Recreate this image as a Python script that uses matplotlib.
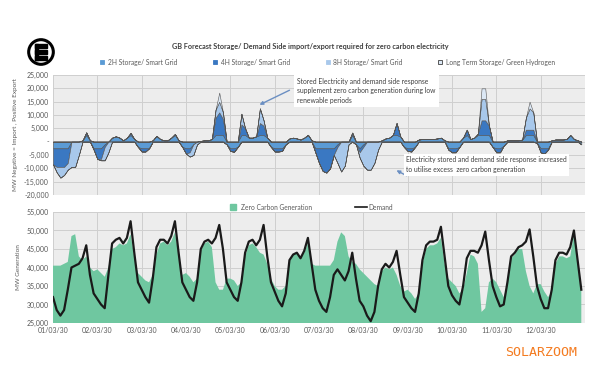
import numpy as np
import pandas as pd
import matplotlib
matplotlib.use("Agg")
import matplotlib.pyplot as plt
from matplotlib.patches import Circle, Rectangle
from matplotlib.lines import Line2D
from matplotlib.ticker import FuncFormatter, MultipleLocator

plt.rcParams['font.family'] = ['Lato', 'DejaVu Sans']

# 2-hourly readings in thousand MW, from 01/03/30 00:00, one row per day
demand = [
    32, 28.5, 27, 28.5, 34, 40, 40.5, 41, 42.5, 46, 38, 33,
    31.5, 30, 29, 38, 46.5, 47.5, 48, 46.5, 48, 52.5, 44, 36,
    34, 32, 30.5, 37, 45.5, 47.5, 47.5, 46.5, 48.5, 52.5, 44, 36,
    34, 32, 31, 36, 45, 47, 47.5, 46.5, 48, 51.5, 45, 36,
    34, 32, 31, 36, 44, 47, 47.5, 46, 47.5, 51.5, 43, 36,
    33.5, 31, 29.5, 33, 42, 43.5, 44, 42.5, 44.5, 48, 41, 34,
    31, 29, 28, 32, 38, 39.5, 38, 36.5, 39, 44, 37, 31,
    29.5, 27, 25.5, 28, 35, 39.5, 41, 40, 41.5, 44.5, 38, 32,
    30.5, 29, 28, 33, 42, 46, 47, 47, 47.5, 51, 43, 35,
    32.5, 31, 30, 35, 42.5, 44.5, 44.5, 44, 46, 49.7, 42, 35,
    32, 29.5, 30, 36, 43, 44, 45.5, 46, 47, 50.3, 43, 35,
    31.5, 29, 29, 34, 42, 44, 44, 43.5, 45.5, 50, 42, 34,
]

generation = [
    40.5, 40.5, 40.5, 41, 41.5, 48.5, 49, 43, 42, 43, 40, 39,
    39.5, 38.5, 37.5, 40, 45, 45.5, 46.5, 46, 46.5, 49, 43, 38.5,
    37.5, 36.5, 36, 38, 43.5, 46.5, 47, 46, 47, 49.5, 43.5, 38,
    38.5, 37.5, 36, 37, 44.5, 46.5, 47, 45.5, 36, 34, 34, 37,
    37, 36.5, 35, 36, 43, 46, 46.5, 45.5, 44, 43.5, 41, 37,
    35, 34, 34, 35, 42, 43.5, 44, 42.5, 44, 46.5, 41, 40.5,
    40.5, 40.5, 40.5, 40.5, 42, 47, 49.5, 48.5, 43, 41.5, 41, 39.5,
    38.5, 37.5, 36.5, 35.5, 35, 39, 40, 39.5, 40, 38, 35, 33.5,
    34, 33, 31.5, 33, 41, 45, 46, 46, 46.5, 48, 41, 37,
    36, 35, 33, 34, 38.5, 43.5, 43, 41, 28, 29, 36, 37,
    36, 34, 32, 35.5, 42.5, 43.5, 45, 45, 39, 35, 33, 35.5,
    35.5, 33.5, 32, 33.5, 41, 43, 43, 42.5, 43, 49, 41.5, 35,
]

storage_2h = [
    -2.5, -2.5, -2.5, -2.5, -2.5, 0, 0, 0, 0.5, 2.5, 0.5, -2.5,
    -2.5, -2.5, -1, 0, 1.5, 2, 1.5, 0.5, 1.5, 2.5, 1, -2,
    -2.5, -2.5, -2.5, 0.5, 2.2, 1, 0.5, 0.5, 1.5, 2.5, 0.5, -2,
    -2.5, -2.5, -1, 0, 0.3, 0.5, 0.5, 1, 2.5, 2.5, 2.5, -1,
    -2.5, -2.5, -2, 2.5, 2.5, 1.5, 1.5, 2, 2.5, 2.5, 1.5, -2,
    -2.5, -2.5, -2.5, -1, 1.2, 1.5, 1.2, 0.8, 1.5, 2.5, 0.5, -2.5,
    -2.5, -2.5, -2.5, -2.5, -2.5, -1, 0, 0, 0, 2.5, -1, -2.5,
    -1, 0, 0, 0, 0, 0.5, 1.2, 1.5, 2.5, 2.5, 2, -2,
    -2.5, -2.5, -2, 0.8, 1, 1, 1, 1, 1.2, 1.5, 0.5, -2.5,
    -2.5, -2.5, -2, 1.5, 2.5, 1, 1.5, 2.5, 2.5, 2.5, 2.5, -2,
    -2.5, -2.5, -1.5, 0.5, 0.5, 0.5, 0.5, 0.8, 2.5, 2.5, 2.5, -0.5,
    -2.5, -2.5, -2.5, 0.5, 0.8, 0.8, 0.8, 1, 2.5, 1, 0.5, -1,
]

storage_4h = [
    -6, -7, -7, -7, -5.5, 0, 0, 0, 0, 1, 0, -0.5,
    -4, -4, -1, 0, 0, 0, 0, 0, 0, 0.8, 0, 0,
    -1.2, -1.2, 0, 0, 0, 0, 0, 0, 0, 0.4, 0, 0,
    -2, -1.5, 0, 0, 0, 0, 0, 0, 6.5, 8.5, 6, 0,
    -1, -1.3, 0, 4, 2.5, 0, 0, 0, 4.5, 3.5, 0, 0,
    -1.2, -1.2, -1, 0, 0, 0, 0, 0, 0, 0.1, 0, -1.5,
    -5.5, -8.5, -9.1, -7.5, -2.5, -1, 0, 0, 0, 0.9, 0, -1.5,
    -1, 0, 0, 0, 0, 0, 0, 0, 0, 4.5, 0, 0,
    -1, -1.2, 0, 0, 0, 0, 0, 0, 0, 0, 0, -0.5,
    -1.5, -1.5, 0, 0, 2, 0, 0, 0.5, 5.5, 5.5, 3.5, 0,
    -1.5, -1.5, 0, 0, 0, 0, 0, 0, 2, 2, 2, 0,
    -1.5, -2, -0.5, 0, 0, 0, 0, 0, 0, 0, 0, 0,
]

storage_8h = [
    0, -2, -4, -3, -2.5, -9.5, -9.5, -5, 0, 0, 0, 0,
    0, -0.5, -5, -4, 0, 0, 0, 0, 0, 0, 0, 0,
    0, 0, 0, 0, 0, 0, 0, 0, 0, 0, 0, 0,
    0, -1.6, -4, -1, 0, 0, 0, 0, 3, 4, 2.5, 0,
    0, 0, 0, 4, 0, 0, 0, 0, 5.5, 2, 0, 0,
    0, 0, 0, 0, 0, 0, 0, 0, 0, 0, 0, 0,
    0, 0, 0, 0, 0, -6, -11.2, -9, -1, 0, 0, -2,
    -7, -10.5, -10.5, -8, -3, 0, 0, 0, 0, 0, 0, 0,
    0, 0, 0, 0, 0, 0, 0, 0, 0, 0, 0, 0,
    0, 0, 0, 0, 0, 0, 0, 0, 8, 8, 0, 0,
    0, 0, 0, 0, 0, 0, 0, 0, 4.5, 8, 6.5, 0,
    0, 0, 0, 0, 0, 0, 0, 0, 0, 0, 0, 0,
]

storage_lt = [
    0, 0, 0, 0, 0, 0, 0, 0, 0, 0, 0, 0,
    0, 0, 0, 0, 0, 0, 0, 0, 0, 0, 0, 0,
    0, 0, 0, 0, 0, 0, 0, 0, 0, 0, 0, 0,
    0, 0, 0, 0, 0, 0, 0, 0, 0, 3.4, 0, 0,
    0, 0, 0, 0, 0, 0, 0, 0, 0, 0, 0, 0,
    0, 0, 0, 0, 0, 0, 0, 0, 0, 0, 0, 0,
    0, 0, 0, 0, 0, 0, 0, 0, 0, 0, 0, 0,
    0, 0, 0, 0, 0, 0, 0, 0, 0, 0, 0, 0,
    0, 0, 0, 0, 0, 0, 0, 0, 0, 0, 0, 0,
    0, 0, 0, 0, 0, 0, 0, 0, 4, 4, 0, 0,
    0, 0, 0, 0, 0, 0, 0, 0, 0, 2.5, 0, 0,
    0, 0, 0, 0, 0, 0, 0, 0, 0, 0, 0, 0,
]

storage_names = ["2H Storage/ Smart Grid", "4H Storage/ Smart Grid",
                 "8H Storage/ Smart Grid", "Long Term Storage/ Green Hydrogen"]
storage_colors = ["#5b9bd5", "#3a78c2", "#a8c8eb", "#dce8f5"]
day_labels = ["01/03/30", "02/03/30", "03/03/30", "04/03/30", "05/03/30", "06/03/30",
              "07/03/30", "08/03/30", "09/03/30", "10/03/30", "11/03/30", "12/03/30"]

W, H = 600, 375


def fx(px):
    return px / W


def fy(py):
    return 1 - py / H


times = pd.date_range("2030-03-01", periods=len(demand), freq="2h")
day_ticks = pd.date_range("2030-03-01", periods=len(day_labels), freq="D")
x_end = pd.Timestamp("2030-03-13")

fig = plt.figure(figsize=(6, 3.75), dpi=100)
fig.patch.set_facecolor("white")

ax1 = fig.add_axes([fx(53), fy(195), 532 / W, 120 / H])
ax2 = fig.add_axes([fx(53), fy(323), 532 / W, 111 / H])

grey_txt = "#595959"
for ax in (ax1, ax2):
    ax.set_facecolor("#ededed")
    for s in ax.spines.values():
        s.set_visible(False)
    ax.grid(True, color="#cfcfcf", lw=0.7)
    ax.set_axisbelow(True)
    ax.set_xlim(times[0], x_end)
    ax.set_xticks(day_ticks)
    ax.tick_params(length=0, labelsize=5, labelcolor=grey_txt, pad=3)

# top panel: stacked storage import/export
pos_base = np.zeros(len(times))
neg_base = np.zeros(len(times))
for vals, col in zip([storage_2h, storage_4h, storage_8h, storage_lt], storage_colors):
    v = np.array(vals) * 1000
    pos = np.clip(v, 0, None)
    neg = np.clip(v, None, 0)
    ax1.fill_between(times, pos_base, pos_base + pos, facecolor=col, edgecolor="#555555", lw=0.4)
    ax1.fill_between(times, neg_base, neg_base + neg, facecolor=col, edgecolor="#555555", lw=0.4)
    pos_base = pos_base + pos
    neg_base = neg_base + neg

ax1.set_ylim(-20000, 25000)
ax1.yaxis.set_major_locator(MultipleLocator(5000))
ax1.yaxis.set_major_formatter(FuncFormatter(lambda v, p: "-" if v == 0 else f"{v:,.0f}"))
ax1.set_xticklabels([])
ax1.set_ylabel("MW Negative = Import , Positive Export", fontsize=4.6, color=grey_txt, labelpad=4)

# bottom panel: generation vs demand
gen = np.array(generation) * 1000
dem = np.array(demand) * 1000
ax2.fill_between(times, 25000, gen, facecolor="#6fc7a0", edgecolor="none")
ax2.plot(times, dem, color="#1a1a1a", lw=1.6)
ax2.set_ylim(25000, 55000)
ax2.yaxis.set_major_locator(MultipleLocator(5000))
ax2.yaxis.set_major_formatter(FuncFormatter(lambda v, p: f"{v:,.0f}"))
ax2.set_xticklabels(day_labels)
ax2.set_ylabel("MW Generation", fontsize=4.6, color=grey_txt, labelpad=4)

# title and legends
fig.text(fx(310), fy(47), "GB Forecast Storage/ Demand Side import/export required for zero carbon electricity",
         ha="center", va="center", fontsize=5.2, fontweight="bold", color="#404040")

top_handles = []
for name, col in zip(storage_names, storage_colors):
    edge = "#404040" if name.startswith("Long") else col
    top_handles.append(Line2D([], [], ls="none", marker="s", ms=3, mfc=col, mec=edge, mew=0.6, label=name))
fig.legend(handles=top_handles, loc="center", bbox_to_anchor=(fx(327), fy(62)), ncol=4,
           frameon=False, fontsize=4.8, handlelength=1.0, handletextpad=0.3, columnspacing=5.2,
           labelcolor=grey_txt)

bottom_handles = [
    Line2D([], [], ls="none", marker="s", ms=4, mfc="#6fc7a0", mec="#6fc7a0", label="Zero Carbon Generation"),
    Line2D([], [], color="#1a1a1a", lw=1.2, label="Demand"),
]
fig.legend(handles=bottom_handles, loc="center", bbox_to_anchor=(fx(310), fy(207)), ncol=2,
           frameon=False, fontsize=4.8, handlelength=1.8, handletextpad=0.3, columnspacing=6.5,
           labelcolor=grey_txt)

# annotations
fig.text(fx(297), fy(91), "Stored Electricity and demand side response\n"
         "supplement zero carbon generation during low\nrenewable periods",
         ha="left", va="center", fontsize=4.9, color="#404040", linespacing=1.35,
         bbox=dict(fc="white", ec="none", pad=2.5))
fig.text(fx(406), fy(165), "Electricity stored and demand side response increased\n"
         "to utilise excess  zero carbon generation",
         ha="left", va="center", fontsize=4.9, color="#404040", linespacing=1.5,
         bbox=dict(fc="white", ec="none", pad=1.5))
arrow_kw = dict(arrowstyle="-|>", color="#6b8fc2", lw=1.0, mutation_scale=5)
ax1.annotate("", xy=(fx(257), fy(106)), xytext=(fx(292), fy(89)), xycoords="figure fraction",
             textcoords="figure fraction", arrowprops=arrow_kw, annotation_clip=False)
ax1.annotate("", xy=(fx(394), fy(169)), xytext=(fx(409), fy(177)), xycoords="figure fraction",
             textcoords="figure fraction", arrowprops=arrow_kw, annotation_clip=False)

# logo
lax = fig.add_axes([fx(27), fy(66), 28 / W, 28 / H])
lax.set_xlim(0, 1)
lax.set_ylim(0, 1)
lax.axis("off")
lax.add_patch(Circle((0.5, 0.5), 0.44, facecolor="white", edgecolor="black", lw=2.2))
lax.add_patch(Rectangle((0.27, 0.22), 0.14, 0.56, color="black"))
for yb in (0.22, 0.44, 0.66):
    lax.add_patch(Rectangle((0.27, yb), 0.46, 0.12, color="black"))

# watermark
fig.text(fx(505), fy(352), "SOLARZOOM", ha="left", va="center", fontsize=9.5,
         family="DejaVu Sans Mono", color="#f47b20")

fig.savefig("out.png", dpi=100)
